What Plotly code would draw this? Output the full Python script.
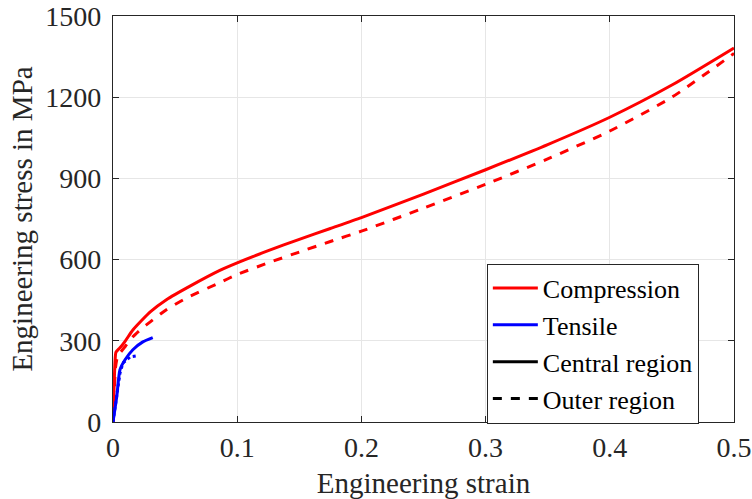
import plotly.graph_objects as go

# Compression, central region (solid)
comp_c_strain = [0, 0.0008, 0.0016, 0.0024, 0.0056, 0.010, 0.016, 0.023, 0.030, 0.043, 0.062, 0.086, 0.10, 0.125, 0.15, 0.175, 0.20, 0.25, 0.30, 0.35, 0.40, 0.45, 0.50]
comp_c_stress = [0, 120, 220, 258, 274, 300, 340, 375, 407, 452, 502, 560, 588, 633, 675, 715, 755, 842, 932, 1025, 1126, 1245, 1382]

# Compression, outer region (dashed)
comp_o_strain = [0, 0.001, 0.002, 0.0035, 0.0056, 0.010, 0.016, 0.023, 0.030, 0.043, 0.060, 0.086, 0.10, 0.125, 0.15, 0.175, 0.20, 0.25, 0.30, 0.35, 0.40, 0.45, 0.50]
comp_o_stress = [0, 110, 200, 240, 255, 280, 315, 345, 370, 415, 460, 515, 545, 588, 628, 667, 705, 790, 878, 972, 1075, 1200, 1362]

# Tensile, central region (solid)
ten_c_strain = [0, 0.003, 0.0056, 0.0097, 0.016, 0.024, 0.032]
ten_c_stress = [0, 93, 193, 230, 267, 296, 312]

# Tensile, outer region (dashed)
ten_o_strain = [0, 0.003, 0.0056, 0.008, 0.014, 0.020]
ten_o_stress = [0, 90, 180, 218, 241, 245]

x_ticks = [0, 0.1, 0.2, 0.3, 0.4, 0.5]
x_tick_labels = ["0", "0.1", "0.2", "0.3", "0.4", "0.5"]
y_ticks = [0, 300, 600, 900, 1200, 1500]

RED = "#ff0000"
BLUE = "#0000ff"
LW = 3
FAMILY = "Liberation Serif"
TXT = "#262626"

fig = go.Figure()
fig.add_trace(go.Scatter(x=comp_c_strain, y=comp_c_stress, mode="lines",
                         line=dict(color=RED, width=LW, shape="spline", smoothing=0.6), showlegend=False))
fig.add_trace(go.Scatter(x=comp_o_strain, y=comp_o_stress, mode="lines",
                         line=dict(color=RED, width=LW, dash="dash", shape="spline", smoothing=0.6), showlegend=False))
fig.add_trace(go.Scatter(x=ten_c_strain, y=ten_c_stress, mode="lines",
                         line=dict(color=BLUE, width=LW, shape="spline", smoothing=0.6), showlegend=False))
fig.add_trace(go.Scatter(x=ten_o_strain, y=ten_o_stress, mode="lines",
                         line=dict(color=BLUE, width=LW, dash="dot"), showlegend=False))

# legend entries
fig.add_trace(go.Scatter(x=[None], y=[None], mode="lines", name="Compression",
                         line=dict(color=RED, width=LW)))
fig.add_trace(go.Scatter(x=[None], y=[None], mode="lines", name="Tensile",
                         line=dict(color=BLUE, width=LW)))
fig.add_trace(go.Scatter(x=[None], y=[None], mode="lines", name="Central region",
                         line=dict(color="black", width=LW)))
fig.add_trace(go.Scatter(x=[None], y=[None], mode="lines", name="Outer region",
                         line=dict(color="black", width=LW, dash="dash")))

font = dict(family=FAMILY, size=29, color=TXT)

axis_common = dict(showline=True, linecolor=TXT, linewidth=1.2, mirror="ticks",
                   ticks="inside", ticklen=6, tickcolor=TXT, tickwidth=1,
                   showgrid=True, gridcolor="#e6e6e6", gridwidth=1, zeroline=False,
                   automargin=False,
                   tickfont=dict(family=FAMILY, size=28, color=TXT))

fig.update_layout(
    width=752, height=499,
    margin=dict(l=113, r=18, t=16, b=77),
    paper_bgcolor="white", plot_bgcolor="white",
    font=font,
    xaxis=dict(range=[0, 0.5], tickvals=x_ticks, ticktext=x_tick_labels,
               title=dict(text="Engineering strain", font=font, standoff=11), **axis_common),
    yaxis=dict(range=[0, 1500], tickvals=y_ticks, ticklabelstandoff=5,
               title=dict(text="Engineering stress in MPa", font=font, standoff=4), **axis_common),
    legend=dict(x=0.602, y=0.39, xanchor="left", yanchor="top",
                bgcolor="white", bordercolor=TXT, borderwidth=1,
                font=dict(family=FAMILY, size=26, color="black"),
                tracegroupgap=0, itemwidth=45),
)

fig.write_html("out.html")
